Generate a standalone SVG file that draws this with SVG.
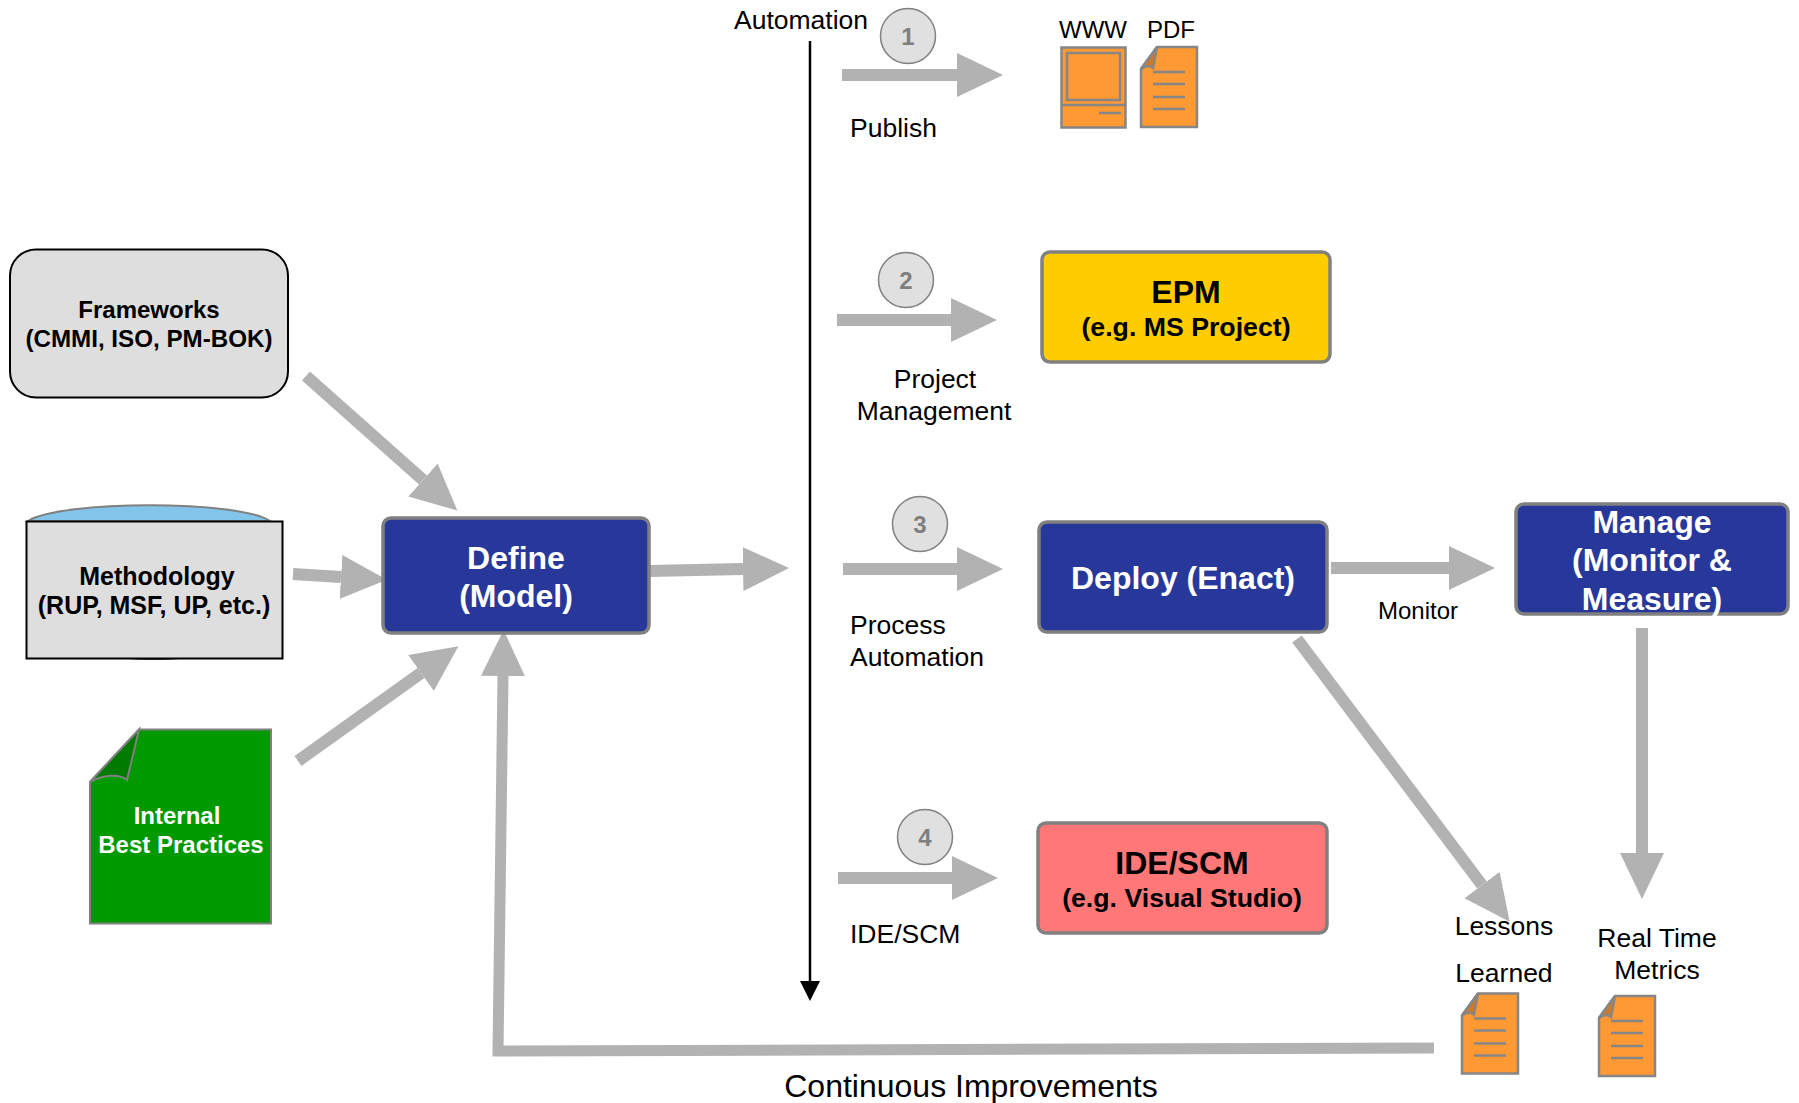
<svg xmlns="http://www.w3.org/2000/svg" width="1799" height="1103" viewBox="0 0 1799 1103">
<defs>
<style>
text{font-family:"Liberation Sans",Arial,sans-serif;fill:#000;text-anchor:middle}
.w{fill:#fff}
.l{font-size:26.5px}
.s{text-anchor:start}
.n{font-size:24px;font-weight:bold}
.o{font-size:25px;font-weight:bold}
.m{font-size:26.7px;font-weight:bold}
.big{font-size:32px;font-weight:bold}
.conn{fill:none;stroke:#b2b2b2;stroke-width:12;marker-end:url(#h)}
.node{stroke:#808080;stroke-width:3.5}
.blue{fill:#27389a}
.doc{fill:#ff9933;stroke:#868686;stroke-width:2.5}
.dl{stroke:#868686;stroke-width:2.5;fill:none}
.fold{fill:#cc7a29;stroke:#868686;stroke-width:2.5}
.c{fill:#e0e0e0;stroke:#808080;stroke-width:1.5}
.ct{font-size:24px;font-weight:bold;fill:#7f7f7f}
</style>
<marker id="h" markerUnits="userSpaceOnUse" markerWidth="48" markerHeight="44" refX="0" refY="22" orient="auto"><path d="M0 0L46 22L0 44Z" fill="#b2b2b2"/></marker>
<marker id="k" markerUnits="userSpaceOnUse" markerWidth="20" markerHeight="20" refX="0" refY="10" orient="auto"><path d="M0 0L20 10L0 20Z" fill="#000"/></marker>
<g id="docshape"><path class="doc" d="M16 0H56V80H0V22Z"/><path class="fold" d="M16 0L0 22C4 19 9 18 12 21Z"/><path class="dl" d="M12 25H44M12 37H44M12 50H44M12 62H44"/></g>
</defs>
<g id="connectors">
<line class="conn" x1="842" y1="75" x2="957" y2="75"/>
<line class="conn" x1="837" y1="320" x2="951" y2="320"/>
<line class="conn" x1="843" y1="569" x2="957" y2="569"/>
<line class="conn" x1="838" y1="878" x2="952" y2="878"/>
<line class="conn" x1="649" y1="571" x2="743" y2="569"/>
<line class="conn" x1="1331" y1="568" x2="1449" y2="568"/>
<line class="conn" x1="1642" y1="628" x2="1642" y2="853"/>
<line class="conn" x1="1297" y1="639" x2="1482" y2="885"/>
<line class="conn" x1="306" y1="376" x2="423" y2="480"/>
<line class="conn" x1="293" y1="574" x2="341" y2="577"/>
<line class="conn" x1="298" y1="761" x2="421" y2="673"/>
<path class="conn" d="M1434 1048L498 1051L503 676" style="stroke-width:11"/>
<line x1="810" y1="41" x2="810" y2="981" stroke="#000" stroke-width="2.5" marker-end="url(#k)"/>
</g>
<g id="automation"><text class="l" x="801" y="29">Automation</text></g>
<g id="step1"><circle class="c" cx="908" cy="36" r="27.5"/><text class="ct" x="908" y="45">1</text></g>
<g id="step2"><circle class="c" cx="906" cy="280" r="27.5"/><text class="ct" x="906" y="289">2</text></g>
<g id="step3"><circle class="c" cx="920" cy="524" r="27.5"/><text class="ct" x="920" y="533">3</text></g>
<g id="step4"><circle class="c" cx="925" cy="837" r="27.5"/><text class="ct" x="925" y="846">4</text></g>
<g id="www"><rect class="doc" x="1061.5" y="47.5" width="64" height="80"/><rect class="doc" x="1067" y="53" width="53" height="47"/><path class="dl" d="M1061 105H1126M1099 113H1121"/><text class="n" x="1093" y="38" style="font-weight:normal">WWW</text></g>
<g id="pdf"><use href="#docshape" x="1141" y="47"/><text class="n" x="1171" y="38" style="font-weight:normal">PDF</text></g>
<g id="publish"><text class="l s" x="850" y="137">Publish</text></g>
<g id="frameworks"><rect x="10" y="249.5" width="278" height="148" rx="26" fill="#dedede" stroke="#000" stroke-width="2"/><text class="o" x="149" y="318" style="font-size:24px">Frameworks</text><text class="o" x="149" y="347" style="font-size:24.2px">(CMMI, ISO, PM-BOK)</text></g>
<g id="methodology"><ellipse cx="154" cy="656" rx="40" ry="4" fill="#444"/><path d="M28 521C60 500 240 500 270 521Z" fill="#83c5ea" stroke="#808080" stroke-width="2"/><rect x="26.500" y="521.500" width="256" height="137" fill="#dedede" stroke="#000" stroke-width="2"/><text class="o" x="157" y="585">Methodology</text><text class="o" x="154" y="614">(RUP, MSF, UP, etc.)</text></g>
<g id="practices"><path d="M139 729.5H271V923.500H90V782Z" fill="#009900" stroke="#808080" stroke-width="2"/><path d="M139 729.500L90 782C105 774 120 774 127 780Z" fill="#007a00" stroke="#808080" stroke-width="2"/><text class="n w" x="177" y="824">Internal</text><text class="n w" x="181" y="853">Best Practices</text></g>
<g id="define"><rect class="node blue" x="383" y="518" width="266" height="115" rx="8"/><text class="big w" x="516" y="569">Define</text><text class="big w" x="516" y="607">(Model)</text></g>
<g id="epm"><rect class="node" x="1042" y="252" width="288" height="110" rx="8" fill="#ffcc00"/><text class="big" x="1186" y="303">EPM</text><text class="m" x="1186" y="336">(e.g. MS Project)</text></g>
<g id="projmgmt"><text class="l" x="935" y="388">Project</text><text class="l" x="934" y="420">Management</text></g>
<g id="deploy"><rect class="node blue" x="1039" y="522" width="288" height="110" rx="8"/><text class="big w" x="1183" y="589">Deploy (Enact)</text></g>
<g id="procauto"><text class="l s" x="850" y="634">Process</text><text class="l s" x="850" y="666">Automation</text></g>
<g id="monitor"><text x="1418" y="619" style="font-size:24px">Monitor</text></g>
<g id="manage"><rect class="node blue" x="1516" y="504" width="272" height="110" rx="8"/><text class="big w" x="1652" y="533">Manage</text><text class="big w" x="1652" y="571">(Monitor &amp;</text><text class="big w" x="1652" y="610">Measure)</text></g>
<g id="ide"><rect class="node" x="1038" y="823" width="289" height="110" rx="8" fill="#ff7777"/><text class="big" x="1182" y="874">IDE/SCM</text><text class="m" x="1182" y="907">(e.g. Visual Studio)</text></g>
<g id="idescm"><text class="l s" x="850" y="943">IDE/SCM</text></g>
<g id="lessons"><text class="l" x="1504" y="935">Lessons</text><text class="l" x="1504" y="982">Learned</text><use href="#docshape" x="1462" y="993.500"/></g>
<g id="metrics"><text class="l" x="1657" y="947">Real Time</text><text class="l" x="1657" y="979">Metrics</text><use href="#docshape" x="1599" y="996"/></g>
<g id="improve"><text x="971" y="1097" style="font-size:32px">Continuous Improvements</text></g>
</svg>
